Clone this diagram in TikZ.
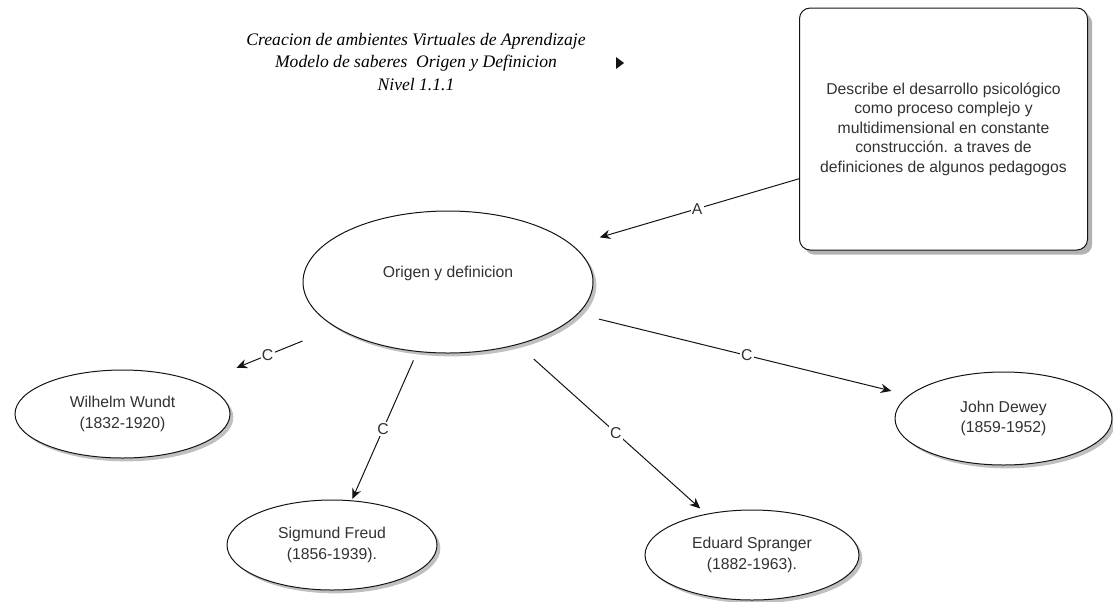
\documentclass[tikz,border=0pt]{standalone}
\usepackage{fontspec}
\setmainfont{Liberation Serif}
\setsansfont{Liberation Sans}
\usetikzlibrary{arrows.meta,shapes.geometric,shadows}
\definecolor{cInk}{RGB}{20,20,20}
\definecolor{cText}{RGB}{50,50,50}
\definecolor{cShade}{RGB}{165,165,165}
\tikzset{
  idea/.style={ellipse, draw=cInk, line width=0.75pt, fill=white, text=cText,
               align=center, inner sep=0pt,
               font=\sffamily\fontsize{11.8}{15.4}\selectfont,
               drop shadow={shadow xshift=2.5pt, shadow yshift=-2.5pt, fill=cShade, opacity=0.7}},
  note/.style={rectangle, rounded corners=8pt, draw=cInk, line width=0.75pt, fill=white,
               text=cText, align=center, inner sep=0pt,
               font=\sffamily\fontsize{11.8}{14.6}\selectfont,
               drop shadow={shadow xshift=3.5pt, shadow yshift=-3.5pt, fill=cShade, opacity=0.85}},
  lnk/.style={-{Stealth[length=8pt,width=7pt]}, draw=cInk, line width=0.75pt},
  tag/.style={fill=white, inner sep=1pt, text=cText,
              font=\sffamily\fontsize{11.8}{14}\selectfont},
}

\begin{document}
\begin{tikzpicture}[x=0.75pt, y=-0.75pt]
\useasboundingbox (0,0) rectangle (1113,601);

% title and marker
\node[align=center, text=black, font=\itshape\fontsize{13.2}{17.2}\selectfont] (title) at (416,62)
  {Creacion de ambientes Virtuales de Aprendizaje\\Modelo de saberes\ \ Origen y Definicion\\Nivel 1.1.1};
\fill[cInk] (616,57) -- (624,63) -- (616,69) -- cycle;

% description
\node[note, minimum width=216pt, minimum height=181.5pt] (desc) at (943.5,129)
  {Describe el desarrollo psicológico\\como proceso complejo y\\multidimensional en constante\\construcción. a traves de\\definiciones de algunos pedagogos};

% concepts
\node[idea, minimum width=217.5pt, minimum height=106.5pt, text depth=16pt] (origen) at (448,282) {Origen y definicion};
\node[idea, minimum width=161.25pt, minimum height=66pt] (wundt) at (122.5,414) {Wilhelm Wundt\\(1832-1920)};
\node[idea, minimum width=157.5pt, minimum height=67.5pt] (freud) at (332,545) {Sigmund Freud\\(1856-1939).};
\node[idea, minimum width=160.5pt, minimum height=67.5pt] (spranger) at (752,555) {Eduard Spranger\\(1882-1963).};
\node[idea, minimum width=162.75pt, minimum height=69.75pt] (dewey) at (1003.5,418.5) {John Dewey\\(1859-1952)};

% links
\draw[lnk, shorten >=21pt] (desc.199) -- node[tag, pos=0.45] {A} (origen);
\draw[lnk, shorten <=27pt, shorten >=30pt] (origen) -- node[tag] {C} (wundt);
\draw[lnk, shorten <=7pt, shorten >=1pt] (origen) -- node[tag, pos=0.52] {C} (freud);
\draw[lnk, shorten <=16pt, shorten >=6pt] (origen) -- node[tag, pos=0.52] {C} (spranger);
\draw[lnk, shorten <=16pt, shorten >=13.5pt] (origen) -- node[tag, pos=0.51] {C} (dewey);
\end{tikzpicture}
\end{document}
